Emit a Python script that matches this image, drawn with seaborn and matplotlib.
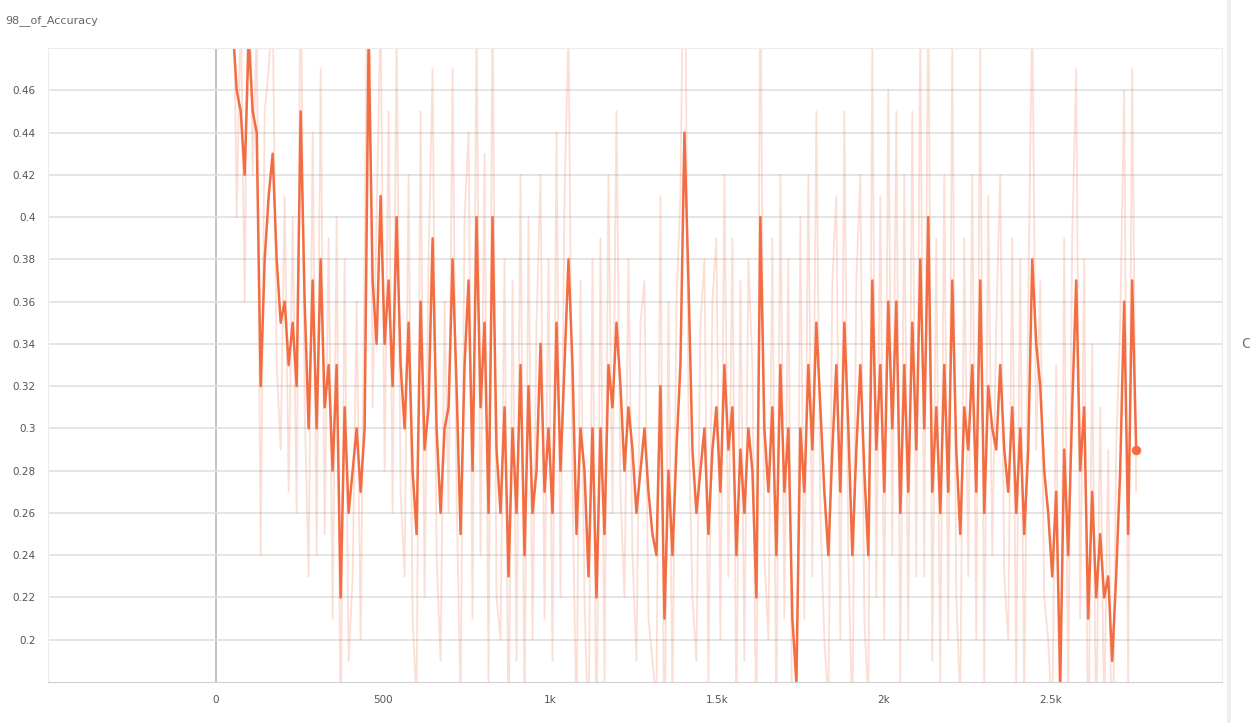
import numpy as np
import pandas as pd
import matplotlib
matplotlib.use('Agg')
import matplotlib.pyplot as plt
import seaborn as sns
from matplotlib.ticker import FuncFormatter

# smoothed curve (dark orange)
smoothed = [
    0.49, 0.46, 0.45, 0.42, 0.485, 0.45, 0.44, 0.32, 0.38, 0.41,
    0.43, 0.38, 0.35, 0.36, 0.33, 0.35, 0.32, 0.45, 0.36, 0.30,
    0.37, 0.30, 0.38, 0.31, 0.33, 0.28, 0.33, 0.22, 0.31, 0.26,
    0.28, 0.30, 0.27, 0.30, 0.485, 0.37, 0.34, 0.41, 0.34, 0.37,
    0.32, 0.40, 0.33, 0.30, 0.35, 0.28, 0.25, 0.36, 0.29, 0.31,
    0.39, 0.30, 0.26, 0.30, 0.31, 0.38, 0.32, 0.25, 0.33, 0.37,
    0.28, 0.40, 0.31, 0.35, 0.26, 0.40, 0.29, 0.26, 0.31, 0.23,
    0.30, 0.26, 0.33, 0.24, 0.32, 0.26, 0.28, 0.34, 0.27, 0.30,
    0.26, 0.35, 0.28, 0.33, 0.38, 0.33, 0.25, 0.30, 0.28, 0.23,
    0.30, 0.22, 0.30, 0.25, 0.33, 0.31, 0.35, 0.32, 0.28, 0.31,
    0.29, 0.26, 0.28, 0.30, 0.27, 0.25, 0.24, 0.32, 0.21, 0.28,
    0.24, 0.29, 0.33, 0.44, 0.37, 0.29, 0.26, 0.28, 0.30, 0.25,
    0.29, 0.31, 0.27, 0.33, 0.29, 0.31, 0.24, 0.29, 0.26, 0.30,
    0.28, 0.22, 0.40, 0.30, 0.27, 0.31, 0.24, 0.33, 0.27, 0.30,
    0.21, 0.18, 0.30, 0.27, 0.33, 0.29, 0.35, 0.31, 0.27, 0.24,
    0.29, 0.33, 0.27, 0.35, 0.30, 0.24, 0.29, 0.33, 0.28, 0.24,
    0.37, 0.29, 0.33, 0.27, 0.36, 0.30, 0.36, 0.26, 0.33, 0.27,
    0.35, 0.29, 0.38, 0.30, 0.40, 0.27, 0.31, 0.26, 0.33, 0.27,
    0.37, 0.29, 0.25, 0.31, 0.29, 0.33, 0.27, 0.37, 0.26, 0.32,
    0.30, 0.29, 0.33, 0.29, 0.27, 0.31, 0.26, 0.30, 0.25, 0.29,
    0.38, 0.34, 0.32, 0.28, 0.26, 0.23, 0.27, 0.18, 0.29, 0.24,
    0.31, 0.37, 0.28, 0.31, 0.21, 0.27, 0.22, 0.25, 0.22, 0.23,
    0.19, 0.23, 0.28, 0.36, 0.25, 0.37, 0.29,
]

# raw values (faint line behind)
raw = [
    0.55, 0.40, 0.50, 0.36, 0.56, 0.42, 0.49, 0.24, 0.45, 0.47,
    0.50, 0.33, 0.29, 0.41, 0.27, 0.40, 0.26, 0.53, 0.31, 0.23,
    0.44, 0.24, 0.47, 0.25, 0.39, 0.21, 0.40, 0.15, 0.38, 0.19,
    0.23, 0.36, 0.20, 0.38, 0.58, 0.31, 0.40, 0.50, 0.28, 0.45,
    0.26, 0.49, 0.27, 0.23, 0.42, 0.21, 0.17, 0.45, 0.22, 0.38,
    0.47, 0.24, 0.19, 0.36, 0.26, 0.47, 0.27, 0.17, 0.40, 0.44,
    0.21, 0.50, 0.24, 0.43, 0.18, 0.51, 0.22, 0.20, 0.38, 0.15,
    0.37, 0.19, 0.42, 0.16, 0.40, 0.20, 0.35, 0.42, 0.21, 0.38,
    0.19, 0.44, 0.22, 0.41, 0.49, 0.27, 0.16, 0.37, 0.22, 0.15,
    0.38, 0.14, 0.39, 0.18, 0.42, 0.26, 0.45, 0.27, 0.22, 0.38,
    0.24, 0.19, 0.35, 0.37, 0.21, 0.19, 0.17, 0.41, 0.13, 0.36,
    0.17, 0.36, 0.41, 0.57, 0.31, 0.22, 0.19, 0.35, 0.38, 0.18,
    0.36, 0.39, 0.20, 0.42, 0.23, 0.39, 0.16, 0.37, 0.19, 0.38,
    0.33, 0.14, 0.53, 0.24, 0.20, 0.39, 0.16, 0.42, 0.21, 0.38,
    0.14, 0.12, 0.40, 0.21, 0.42, 0.23, 0.45, 0.26, 0.20, 0.17,
    0.37, 0.41, 0.20, 0.45, 0.24, 0.16, 0.37, 0.42, 0.21, 0.17,
    0.48, 0.22, 0.41, 0.20, 0.46, 0.24, 0.45, 0.18, 0.42, 0.20,
    0.45, 0.23, 0.49, 0.23, 0.52, 0.19, 0.39, 0.18, 0.42, 0.20,
    0.48, 0.22, 0.17, 0.39, 0.23, 0.42, 0.20, 0.48, 0.18, 0.41,
    0.24, 0.35, 0.42, 0.23, 0.20, 0.39, 0.18, 0.38, 0.17, 0.36,
    0.50, 0.29, 0.37, 0.22, 0.20, 0.16, 0.33, 0.11, 0.39, 0.17,
    0.39, 0.47, 0.21, 0.38, 0.13, 0.34, 0.15, 0.31, 0.16, 0.29,
    0.12, 0.29, 0.35, 0.46, 0.18, 0.47, 0.27,
]

# logged steps are evenly spaced from ~50 to ~2755
steps = np.linspace(50, 2755, len(smoothed))

y_ticks = [0.2, 0.22, 0.24, 0.26, 0.28, 0.3, 0.32, 0.34, 0.36, 0.38, 0.4, 0.42, 0.44, 0.46]
x_ticks = [0, 500, 1000, 1500, 2000, 2500]
x_labels = ['0', '500', '1k', '1.5k', '2k', '2.5k']

df = pd.DataFrame({'step': steps, 'raw': raw, 'smoothed': smoothed})

sns.set_style('white')
plt.rcParams['font.family'] = ['DejaVu Sans']

fig = plt.figure(figsize=(12.5, 7.23), dpi=100)
ax = fig.add_axes([0.0384, 0.0567, 0.9392, 0.8769])

orange = '#f36d42'
sns.lineplot(data=df, x='step', y='raw', ax=ax, color=orange, alpha=0.22, linewidth=1.3)
sns.lineplot(data=df, x='step', y='smoothed', ax=ax, color=orange, linewidth=1.8)
sns.scatterplot(data=df.tail(1), x='step', y='smoothed', ax=ax, color=orange, s=40,
                edgecolor=orange, zorder=5)

ax.set_xlim(-503, 3012)
ax.set_ylim(0.18, 0.48)
ax.set_yticks(y_ticks)
ax.yaxis.set_major_formatter(FuncFormatter(lambda v, p: f'{v:g}'))
ax.set_xticks(x_ticks)
ax.set_xticklabels(x_labels)
ax.set_xlabel('')
ax.set_ylabel('')
ax.grid(axis='y', color='#e0e0e0', linewidth=1.2)
ax.axvline(0, color='#b8b8b8', linewidth=1.2, zorder=0)
ax.tick_params(axis='both', length=0, labelsize=7.5, labelcolor='#555555', pad=9)
for side in ['top', 'left', 'right']:
    ax.spines[side].set_color('#ececec')
ax.spines['bottom'].set_color('#d0d0d0')

fig.text(0.004, 0.968, '98__of_Accuracy', fontsize=8, color='#666666')
fig.add_artist(plt.Line2D([0.983, 0.983], [0.0, 1.0], color='#eeeeee', linewidth=3,
                          transform=fig.transFigure))
fig.text(0.993, 0.518, 'C', fontsize=10, color='#777777')

fig.savefig('out.png', dpi=100)
